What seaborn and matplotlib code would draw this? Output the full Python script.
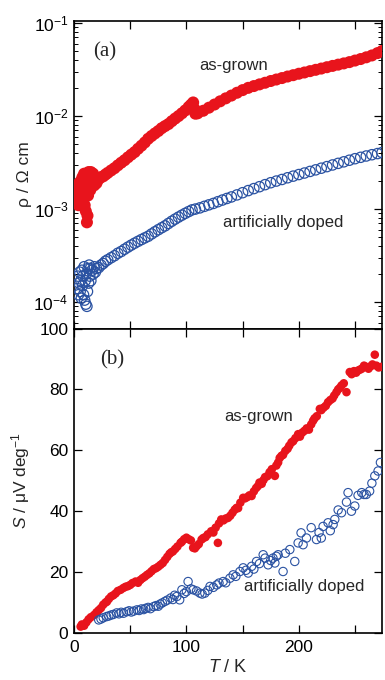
import matplotlib
matplotlib.use("Agg")
import matplotlib.pyplot as plt
import seaborn as sns
import numpy as np
from matplotlib.ticker import FixedLocator, FixedFormatter, LogLocator

# ---------------- data: panel (a) resistivity ----------------
T_rho_grown = [3, 3.5, 4, 4.5, 5, 5.5, 6, 6.5, 7, 7.5, 8, 8.5, 9, 9.5, 10, 10.5, 11, 11.5,
               12, 12.5, 13, 13.5, 14, 14.5, 15, 16, 17, 18, 19, 20,
               22, 24, 26, 28, 30, 33, 36, 39, 42, 45, 48, 51, 54, 57, 60, 63, 66, 69,
               72, 75, 78, 81, 84, 87, 90, 93, 96, 99, 102, 104, 106, 107, 108, 110,
               115, 120, 125, 130, 135, 140, 145, 150, 155, 160, 165, 170, 175, 180,
               185, 190, 195, 200, 205, 210, 215, 220, 225, 230, 235, 240, 245, 250,
               255, 260, 265, 270, 274]
rho_grown = [1.3e-3, 1.6e-3, 1.1e-3, 1.9e-3, 1.4e-3, 1.2e-3, 2.0e-3, 1.5e-3, 1.7e-3, 2.2e-3,
             1.3e-3, 1.8e-3, 2.4e-3, 1.1e-3, 1.6e-3, 9.5e-4, 2.1e-3, 7.2e-4, 8.5e-4, 1.4e-3,
             2.5e-3, 1.9e-3, 2.3e-3, 1.6e-3, 2.5e-3, 2.0e-3, 2.4e-3, 1.8e-3, 2.2e-3, 1.9e-3,
             2.1e-3, 2.2e-3, 2.25e-3, 2.35e-3, 2.45e-3, 2.6e-3, 2.75e-3, 2.95e-3, 3.15e-3,
             3.35e-3, 3.6e-3, 3.85e-3, 4.1e-3, 4.45e-3, 4.8e-3, 5.2e-3, 5.7e-3, 6.1e-3,
             6.5e-3, 6.9e-3, 7.4e-3, 7.8e-3, 8.2e-3, 8.8e-3, 9.4e-3, 1.0e-2, 1.07e-2,
             1.15e-2, 1.25e-2, 1.32e-2, 1.4e-2, 1.2e-2, 1.06e-2, 1.07e-2,
             1.14e-2, 1.23e-2, 1.33e-2, 1.44e-2, 1.55e-2, 1.66e-2, 1.78e-2, 1.9e-2,
             2.01e-2, 2.1e-2, 2.19e-2, 2.28e-2, 2.38e-2, 2.47e-2, 2.56e-2, 2.66e-2,
             2.75e-2, 2.85e-2, 2.94e-2, 3.04e-2, 3.14e-2, 3.24e-2, 3.35e-2, 3.46e-2,
             3.57e-2, 3.68e-2, 3.8e-2, 3.95e-2, 4.1e-2, 4.28e-2, 4.48e-2, 4.75e-2, 5.0e-2]

T_rho_doped = [3, 3.5, 4, 4.5, 5, 5.5, 6, 6.5, 7, 7.5, 8, 8.5, 9, 9.5, 10, 10.5, 11, 11.5,
               12, 12.5, 13, 13.5, 14, 14.5, 15, 16, 17, 18, 19, 20,
               22, 24, 26, 28, 30, 33, 36, 39, 42, 45, 48, 51, 54, 57, 60, 63, 66, 69,
               72, 75, 78, 81, 84, 87, 90, 93, 96, 99, 102, 105, 108, 112, 116, 120,
               124, 128, 132, 136, 140, 145, 150, 155, 160, 165, 170, 175, 180, 185,
               190, 195, 200, 205, 210, 215, 220, 225, 230, 235, 240, 245, 250, 255,
               260, 265, 270, 274]
rho_doped = [1.4e-4, 1.9e-4, 1.2e-4, 1.6e-4, 2.1e-4, 1.3e-4, 1.7e-4, 1.1e-4, 2.2e-4, 1.5e-4,
             1.9e-4, 1.2e-4, 2.4e-4, 1.05e-4, 1.7e-4, 9.5e-5, 2.0e-4, 9.0e-5, 1.3e-4, 2.3e-4,
             1.6e-4, 2.5e-4, 1.9e-4, 2.3e-4, 1.7e-4, 2.2e-4, 2.0e-4, 2.4e-4, 2.1e-4, 2.3e-4,
             2.35e-4, 2.5e-4, 2.6e-4, 2.75e-4, 2.85e-4, 3.0e-4, 3.15e-4, 3.35e-4, 3.5e-4,
             3.7e-4, 3.9e-4, 4.1e-4, 4.3e-4, 4.5e-4, 4.7e-4, 4.9e-4, 5.1e-4, 5.4e-4,
             5.7e-4, 6.0e-4, 6.3e-4, 6.6e-4, 7.0e-4, 7.4e-4, 7.8e-4, 8.2e-4, 8.6e-4,
             9.0e-4, 9.4e-4, 9.8e-4, 1.0e-3, 1.03e-3, 1.07e-3, 1.11e-3,
             1.15e-3, 1.2e-3, 1.25e-3, 1.3e-3, 1.35e-3, 1.42e-3, 1.5e-3, 1.58e-3,
             1.66e-3, 1.74e-3, 1.83e-3, 1.92e-3, 2.0e-3, 2.08e-3, 2.17e-3, 2.26e-3,
             2.35e-3, 2.44e-3, 2.54e-3, 2.64e-3, 2.75e-3, 2.86e-3, 2.98e-3, 3.1e-3,
             3.22e-3, 3.35e-3, 3.48e-3, 3.6e-3, 3.72e-3, 3.84e-3, 3.95e-3, 4.05e-3]

# ---------------- data: panel (b) thermopower ----------------
T_S_grown = [5.9, 7, 9, 11, 13, 15, 17.8, 20, 22, 24, 26, 28, 29.3, 31, 33, 35, 37, 39, 41.5,
             44, 46, 48, 50, 52, 54.8, 57, 59, 61, 63, 65, 67, 69, 71, 73, 75, 77, 79, 81,
             83, 85, 86.5, 88, 90, 92, 94.8, 96, 98, 100, 102, 104, 106, 107.5, 109, 111,
             113.5, 115, 117, 119, 122, 124, 126, 128, 129, 131, 133, 135, 137, 139, 141,
             143, 144.6, 146, 148, 150.5, 152, 154, 156, 158, 160, 162, 163.5, 165, 167,
             168.5, 170, 172, 174, 176, 178.7, 180, 181.6, 183, 184.6, 186, 188, 190,
             191.5, 193.5, 195, 197, 199.4, 201, 203, 205, 207, 209, 211, 212.7, 214,
             216, 218.7, 220, 222, 224, 226, 228, 230, 231.5, 233.5, 235, 236.5, 238,
             240, 242.4, 245.3, 247, 249, 251, 252.7, 254.5, 256, 258, 260, 262, 264,
             265.5, 267.6, 269, 271, 273.5]
S_grown = [2.1, 2.8, 2.4, 3.5, 4.5, 5.2, 5.9, 6.8, 7.5, 8.2, 9.3, 10.0, 10.3, 11.2, 12.0, 12.4,
           13.0, 13.8, 14.2, 14.8, 15.2, 15.4, 15.8, 16.4, 16.9, 16.5, 17.4, 18.0, 18.5,
           19.1, 19.6, 20.3, 21.0, 21.3, 21.8, 22.4, 23.0, 24.0, 25.0, 26.0, 26.5, 26.8,
           27.6, 28.4, 29.6, 30.0, 30.8, 31.3, 30.8, 30.4, 28.0, 27.8, 28.5, 29.2, 30.7,
           31.2, 31.5, 32.4, 33.4, 33.0, 34.6, 29.6, 36.0, 37.3, 37.0, 37.6, 37.8, 38.5,
           39.5, 40.5, 41.1, 41.0, 42.8, 44.4, 44.2, 44.6, 45.2, 45.0, 46.5, 47.6, 48.2,
           49.4, 49.0, 50.2, 51.2, 51.5, 52.8, 53.8, 51.6, 55.0, 56.0, 57.5, 58.2, 58.5,
           59.8, 60.5, 61.5, 62.6, 63.0, 64.0, 65.3, 64.5, 65.8, 66.4, 67.2, 66.8, 68.5,
           69.7, 70.5, 71.2, 73.6, 73.2, 74.0, 74.6, 75.8, 76.5, 77.0, 78.0, 79.1, 80.0,
           80.5, 81.3, 82.0, 79.1, 85.7, 85.0, 86.0, 85.5, 86.2, 86.5, 86.8, 87.8, 87.4,
           86.8, 87.6, 88.2, 91.4, 87.8, 87.2, 87.4]

T_S_doped = [22, 24, 26, 29, 31, 33, 35, 38, 40, 42, 44, 47, 49, 51, 53, 56, 58, 60, 62, 63.7,
             66, 68, 71, 73, 75, 76.6, 78.6, 81, 83, 86, 88, 89.5, 91.5, 94, 96, 98, 100,
             101.5, 104, 106, 109, 112, 114, 116.4, 119, 121, 124, 127, 129, 132.7, 135,
             138.7, 141.6, 144, 147.6, 150.5, 153, 155, 158, 160, 162.4, 165, 168.3, 170,
             172.7, 175, 177, 178.7, 180, 181.6, 186, 188, 192, 196.4, 199.4, 202, 203.8,
             206.8, 211, 215.7, 218, 220, 221.6, 226, 228, 230.5, 232, 235, 238, 242.4,
             243.8, 246.8, 249.8, 252.7, 256, 258, 260, 263, 265, 267.6, 270.5, 272.6]
S_doped = [4.3, 4.6, 5.0, 5.4, 5.6, 5.9, 6.1, 6.6, 6.3, 6.8, 6.5, 7.0, 7.3, 6.9, 7.2, 7.6, 7.4,
           7.9, 7.7, 8.1, 8.4, 8.0, 8.7, 9.0, 8.8, 9.5, 9.9, 10.4, 10.8, 11.5, 11.0, 12.4,
           12.0, 10.9, 14.2, 13.0, 13.6, 16.9, 14.5, 14.2, 13.8, 13.1, 12.8, 13.1, 14.0,
           15.3, 15.0, 15.8, 16.4, 16.9, 16.5, 18.0, 19.1, 18.6, 20.2, 21.4, 20.6, 19.7,
           21.9, 21.0, 23.5, 22.8, 25.7, 24.6, 22.4, 23.8, 24.6, 23.0, 25.2, 25.7, 20.2,
           26.2, 27.4, 23.5, 29.6, 32.9, 29.0, 31.2, 34.6, 30.7, 33.0, 31.2, 35.0, 36.2,
           33.6, 35.6, 37.3, 40.4, 39.5, 43.0, 46.1, 40.0, 41.7, 45.2, 46.1, 45.5, 45.5,
           46.6, 49.2, 51.6, 53.2, 56.0]

x_ticks = [0, 50, 100, 150, 200, 250]
x_tick_labels = ["0", "", "100", "", "200", ""]
s_ticks = [0, 20, 40, 60, 80, 100]

RED = "#E8141C"
BLUE = "#2A52A2"

sns.set_style("ticks")
plt.rcParams["font.family"] = ["Liberation Sans", "DejaVu Sans"]
plt.rcParams["mathtext.fontset"] = "custom"
plt.rcParams["mathtext.rm"] = "Liberation Sans"
plt.rcParams["mathtext.it"] = "Liberation Sans:italic"
plt.rcParams["mathtext.bf"] = "Liberation Sans:bold"

fig = plt.figure(figsize=(3.85, 6.8), dpi=100)
ax1 = fig.add_axes([0.1922, 0.5169, 0.80, 0.4527])
ax2 = fig.add_axes([0.1922, 0.0691, 0.80, 0.4478])

# ---- panel (a)
sns.scatterplot(x=T_rho_grown, y=rho_grown, ax=ax1, color=RED, s=75,
                edgecolor="none", marker="o", zorder=3)
sns.scatterplot(x=T_rho_doped, y=rho_doped, ax=ax1, facecolors="none",
                edgecolor=BLUE, linewidth=0.9, s=55, marker="o", zorder=3)
ax1.set_yscale("log")
ax1.set_ylim(5.2e-5, 0.106)
ax1.set_xlim(0, 274)
ax1.xaxis.set_major_locator(FixedLocator(x_ticks))
ax1.set_xticklabels([])
ax1.yaxis.set_major_locator(LogLocator(base=10, numticks=10))
ax1.yaxis.set_minor_locator(LogLocator(base=10, subs=np.arange(2, 10), numticks=20))
ax1.set_ylabel("ρ / Ω cm", fontsize=12.5)
ax1.set_xlabel("")
ax1.text(0.062, 0.90, "(a)", transform=ax1.transAxes, fontsize=15,
         family="Liberation Serif", ha="left", va="center")
ax1.text(142, 0.035, "as-grown", fontsize=12, ha="center", va="center")
ax1.text(186, 7.2e-4, "artificially doped", fontsize=12, ha="center", va="center")

# ---- panel (b)
sns.scatterplot(x=T_S_grown, y=S_grown, ax=ax2, color=RED, s=38,
                edgecolor="none", marker="o", zorder=3)
sns.scatterplot(x=T_S_doped, y=S_doped, ax=ax2, facecolors="none",
                edgecolor=BLUE, linewidth=0.8, s=36, marker="o", zorder=3)
ax2.set_xlim(0, 274)
ax2.set_ylim(0, 100)
ax2.xaxis.set_major_locator(FixedLocator(x_ticks))
ax2.xaxis.set_major_formatter(FixedFormatter(x_tick_labels))
ax2.yaxis.set_major_locator(FixedLocator(s_ticks))
ax2.set_ylabel(r"$\mathit{S}$ / μV deg$^{-1}$", fontsize=12.5)
ax2.set_xlabel(r"$\mathit{T}$ / K", fontsize=13, labelpad=3)
ax2.text(0.084, 0.898, "(b)", transform=ax2.transAxes, fontsize=15,
         family="Liberation Serif", ha="left", va="center")
ax2.text(164, 71, "as-grown", fontsize=12, ha="center", va="center")
ax2.text(205, 15.2, "artificially doped", fontsize=12, ha="center", va="center")

for ax in (ax1, ax2):
    ax.tick_params(which="both", direction="in", top=True, right=True,
                   labelsize=12.5, colors="black")
    ax.tick_params(which="major", length=6, width=0.9)
    ax.tick_params(which="minor", length=3, width=0.7)
    ax.tick_params(axis="y", pad=4)
    ax.tick_params(axis="x", pad=5)
    for sp in ax.spines.values():
        sp.set_linewidth(1.2)
        sp.set_color("black")
    ax.yaxis.set_label_coords(-0.136, 0.5)

fig.savefig("out.png", dpi=100)
